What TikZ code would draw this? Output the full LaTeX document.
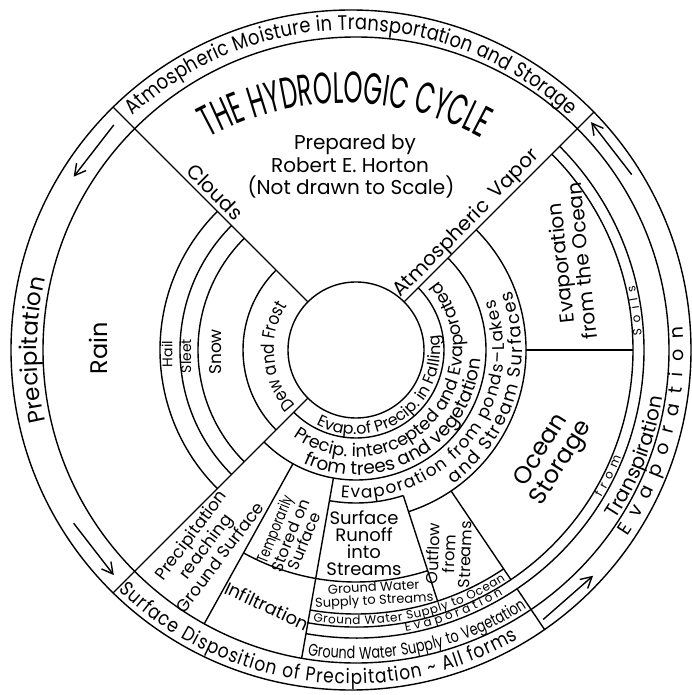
\documentclass[tikz,border=0pt]{standalone}
\usepackage{fontspec}
\usetikzlibrary{arrows.meta}
\usetikzlibrary{decorations.text}

\newfontfamily\lettering{Poppins}
\newfontfamily\letteringc{Poppins}[FakeStretch=0.85]
\newfontfamily\letteringm{Poppins}[FakeStretch=0.75]
\newfontfamily\letteringt{Poppins}[FakeStretch=0.55]
\newcommand\pts[1]{\fontsize{#1}{#1}\selectfont}

\begin{document}
\begin{tikzpicture}[x=1pt,y=1pt,
    % styles
    ring/.style={line width=1.4pt},
    flow/.style={line width=1.4pt,-{Straight Barb[length=11pt,width=12pt]}},
    lab/.style={inner sep=0pt,align=center},
    arc text/.style={decorate,decoration={text along path,text align={#1}}}]

  \useasboundingbox (-351,-345) rectangle (341,350);

  % outer circle
  \draw[ring] (0,0) circle[radius=340];

  % outer band texts
  \path[arc text={fit to path},decoration={text={|\letteringc\pts{21}|Atmospheric Moisture in Transportation and Storage}}]
    (133:320) arc[start angle=133,end angle=47,radius=320];
  \path[arc text=center,decoration={text={|\lettering\pts{23}|Precipitation}}]
    (198:314) arc[start angle=198,end angle=162,radius=314];
  \path[arc text={fit to path},decoration={text={|\letteringc\pts{20}|Surface Disposition of Precipitation {\textasciitilde} All forms}}]
    (226:334) arc[start angle=226,end angle=300,radius=334];
  \path[arc text={fit to path},decoration={text={|\lettering\pts{19}|Evaporation}}]
    (326:333) arc[start angle=326,end angle=364,radius=333];

  % flow arrows
  \draw[flow] (136.5:327) -- (148:327);
  \draw[flow] (212:327) -- (223.5:327);
  \draw[flow] (32:331) -- (43.5:331);
  \draw[flow] (305.5:331) -- (317:331);

  \begin{scope}[xshift=5]
    % circles
    \draw[ring] (0,0) circle[radius=68];
    \draw[ring] (0,0) circle[radius=313];

    % rings round the centre (lower right half)
    \foreach \r in {88,130}
      \draw[ring] (225:\r) arc[start angle=225,end angle=405,radius=\r];
    \draw[ring] (260:153) arc[start angle=260,end angle=288,radius=153];
    \draw[ring] (288:170) arc[start angle=288,end angle=405,radius=170];

    % rings of the precipitation side
    \foreach \r in {113,158,176,196}
      \draw[ring] (135:\r) arc[start angle=135,end angle=225,radius=\r];

    % rings of the ground side
    \draw[ring] (241:232) arc[start angle=241,end angle=288,radius=232];
    \draw[ring] (260:264) arc[start angle=260,end angle=304,radius=264];
    \foreach \r in {277,288}
      \draw[ring] (260:\r) arc[start angle=260,end angle=405,radius=\r];

    % radial lines
    \foreach \a/\l in {45/336.4,135/343.5,225/343.5}
      \draw[ring] (\a:68) -- (\a:\l);
    \foreach \a in {241,260}
      \draw[ring] (\a:130) -- (\a:313);
    \draw[ring] (288:153) -- (288:264);
    \draw[ring] (304:170) -- (304:277);
    \draw[ring] (304:288) -- (304:337.2);
    \draw[ring] (0:170) -- (0:277);

    % right bands
    \path[arc text=center,decoration={text={|\lettering\pts{20}|Transpiration}}]
      (323:310) arc[start angle=323,end angle=355,radius=310];
    \path[arc text={fit to path},decoration={text={|\lettering\pts{12}|from}}]
      (329:286) arc[start angle=329,end angle=338,radius=286];
    \path[arc text={fit to path},decoration={text={|\lettering\pts{12}|Soils}}]
      (3:286) arc[start angle=3,end angle=13,radius=286];

    % bottom bands
    \path[arc text={fit to path stretching spaces},decoration={text={|\letteringm\pts{17}|Ground Water Supply to Vegetation}}]
      (261:309) arc[start angle=261,end angle=303.5,radius=309];
    \path[arc text={fit to path},decoration={text={|\lettering\pts{12}|Evaporation}}]
      (280:285.5) arc[start angle=280,end angle=301,radius=285.5];
    \path[arc text={fit to path},decoration={text={|\lettering\pts{12}|Ground Water Supply to Ocean}}]
      (261:274.5) arc[start angle=261,end angle=303,radius=274.5];

    % rings round the centre
    \path[arc text=center,decoration={text={|\lettering\pts{16}|Evap.of Precip. in Falling}}]
      (228:84.5) arc[start angle=228,end angle=384,radius=84.5];
    \path[arc text=center,decoration={text={|\lettering\pts{17.5}|Precip. intercepted and Evaporated}}]
      (229:107) arc[start angle=229,end angle=405,radius=107];
    \path[arc text=center,decoration={text={|\lettering\pts{18.5}|from trees and vegetation}}]
      (243:125) arc[start angle=243,end angle=358,radius=125];
    \path[arc text={fit to path},decoration={text={|\lettering\pts{17}|Evaporation from ponds{\textendash}Lakes}}]
      (264:148) arc[start angle=264,end angle=380,radius=148];
    \path[arc text={fit to path},decoration={text={|\lettering\pts{18}|and Stream Surfaces}}]
      (306:166) arc[start angle=306,end angle=381,radius=166];
    \path[arc text=center,decoration={text={|\letteringc\pts{18}|Dew and Frost}}]
      (230:82) arc[start angle=230,end angle=140,radius=82];
  \end{scope}

  % title
  \path[arc text=center,decoration={text={|\letteringt\pts{44}|THE HYDROLOGIC CYCLE}}]
    (-6,-36) ++(122:283) arc[start angle=122,end angle=58,radius=283];
  \node[anchor=base,font=\lettering\pts{20}] (prep) at (4,200) {Prepared by};
  \node[anchor=base,font=\lettering\pts{20}] (author) at (-1,177) {Robert E. Horton};
  \node[anchor=base,font=\lettering\pts{20}] (scale) at (0,155) {(Not drawn to Scale)};

  % precipitation side
  \node[lab,rotate=90,font=\lettering\pts{24}] (rain) at (-253,2) {Rain};
  \node[lab,rotate=90,font=\lettering\pts{14}] (hail) at (-184,-4) {Hail};
  \node[lab,rotate=90,font=\lettering\pts{14}] (sleet) at (-165,-6) {Sleet};
  \node[lab,rotate=90,font=\lettering\pts{17}] (snow) at (-135,-2) {Snow};
  \node[lab,rotate=-45,font=\lettering\pts{20}] (clouds) at (-136,158) {Clouds};
  \node[lab,rotate=45,font=\lettering\pts{20}] (atmos) at (91,101) {Atmospheric};
  \node[lab,rotate=45,font=\lettering\pts{20}] (vapor) at (164,175) {Vapor};

  % ground side
  \node[lab,rotate=53,font=\lettering\pts{17}] (reach) at (-146,-196) {Precipitation\\reaching\\Ground Surface};
  \node[lab,rotate=68,font=\lettering\fontsize{16}{15}\selectfont] (stored) at (-62,-185) {{\letteringm Temporarily}\\Stored on\\Surface};
  \node[lab,rotate=-25,font=\lettering\pts{18}] (infil) at (-84,-256) {Infiltration};
  \node[lab,font=\lettering\fontsize{18}{17}\selectfont] (runoff) at (13,-193) {Surface\\Runoff\\into\\Streams};
  \node[lab,rotate=3,font=\lettering\pts{13}] (gwstreams) at (23,-245) {Ground Water\\Supply to Streams};
  \node[lab,rotate=88,font=\lettering\pts{16}] (outflow) at (98,-204) {Outflow\\from\\Streams};

  % ocean side
  \node[lab,rotate=58,font=\lettering\pts{24}] (ocean) at (201,-107) {Ocean\\Storage};
  \node[lab,rotate=96,font=\lettering\pts{20}] (oceanevap) at (220,88) {Evaporation\\from the Ocean};
\end{tikzpicture}
\end{document}
